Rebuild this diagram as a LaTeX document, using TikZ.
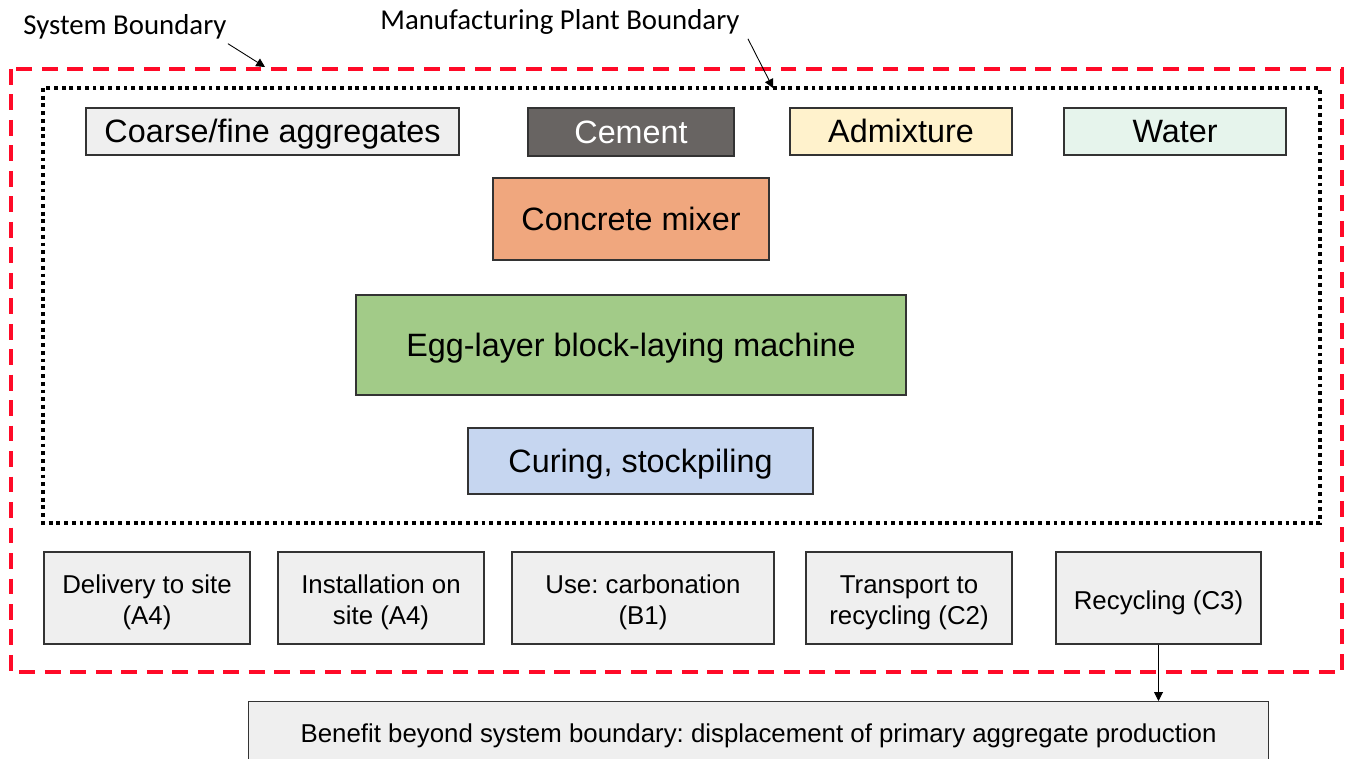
\documentclass[tikz,border=0pt]{standalone}
\usepackage{fontspec}
\setmainfont{Liberation Sans}
\newfontfamily\labelfont{Carlito}
\usetikzlibrary{positioning,arrows.meta}

\definecolor{boxgrey}{HTML}{EFEFEF}
\definecolor{cementgrey}{HTML}{686462}
\definecolor{admixyellow}{HTML}{FFF2CC}
\definecolor{watergreen}{HTML}{E6F4EC}
\definecolor{mixerorange}{HTML}{F0A77E}
\definecolor{machinegreen}{HTML}{A2CB88}
\definecolor{curingblue}{HTML}{C6D6F0}
\definecolor{boundred}{HTML}{FF0A28}

\newcommand{\stagestrut}{\rule{0pt}{16pt}}

\begin{document}
\frenchspacing
\begin{tikzpicture}[x=0.02cm,y=-0.02cm,
topbox/.style={rectangle, draw=black!80, line width=0.8pt, inner sep=0pt, text height=16.6pt, text depth=3.9pt, font=\fontsize{18.4}{21}\selectfont},
stagebox/.style={rectangle, draw=black!80, line width=0.8pt, fill=boxgrey, inner sep=0pt, align=center, minimum height=1.84cm, font=\fontsize{14.7}{17.6}\selectfont},
annot/.style={font=\labelfont\fontsize{16.4}{19}\selectfont, inner sep=0pt},
pointer/.style={-{Triangle[length=5pt,width=5pt]}, line width=0.5pt},
]
\useasboundingbox (0,0) rectangle (1352,758);

%Boundaries
\draw[boundred, line width=2.3pt, dash pattern=on 9pt off 5.5pt] (11,69) rectangle (1342,672);
\draw[black, line width=2.2pt, dash pattern=on 2.2pt off 2.2pt] (43,88) rectangle (1320,523);

%Nodes
\node[topbox, fill=boxgrey, minimum width=7.46cm, minimum height=0.94cm]      (aggregates) at (272.5,131.5) {Coarse/fine aggregates};
\node[topbox, fill=cementgrey, text=white, minimum width=4.12cm, minimum height=0.96cm] (cement) at (631,132) {Cement};
\node[topbox, fill=admixyellow, minimum width=4.44cm, minimum height=0.94cm]  (admixture) at (901,131.5) {Admixture};
\node[topbox, fill=watergreen, minimum width=4.44cm, minimum height=0.94cm]   (water) at (1175,131.5) {Water};
\node[topbox, fill=mixerorange, minimum width=5.52cm, minimum height=1.64cm]  (mixer) at (631,219) {Concrete mixer};
\node[topbox, fill=machinegreen, minimum width=11cm, minimum height=2cm]      (machine) at (631,345) {Egg-layer block-laying machine};
\node[topbox, fill=curingblue, minimum width=6.9cm, minimum height=1.32cm]    (curing) at (640.5,461) {Curing, stockpiling};

\node[stagebox, minimum width=4.12cm] (delivery) at (147,598) {\stagestrut Delivery to site\\(A4)};
\node[stagebox, minimum width=4.12cm] (install) at (381,598) {\stagestrut Installation on\\site (A4)};
\node[stagebox, minimum width=5.24cm] (use) at (643,598) {\stagestrut Use: carbonation\\(B1)};
\node[stagebox, minimum width=4.12cm] (transport) at (909,598) {\stagestrut Transport to\\recycling (C2)};
\node[stagebox, minimum width=4.10cm] (recycling) at (1158.5,598) {\stagestrut Recycling (C3)};

\node[rectangle, draw=black!80, line width=0.8pt, fill=boxgrey, inner sep=0pt, minimum width=20.4cm, minimum height=1.28cm,
      text height=13.3pt, text depth=3.1pt, anchor=north west, font=\fontsize{14.7}{18}\selectfont] (benefit) at (248,701)
      {Benefit beyond system boundary: displacement of primary aggregate production};

\node[annot] (syslabel) at (125,27) {System Boundary};
\node[annot] (plantlabel) at (560,22) {Manufacturing Plant Boundary};
\coordinate (sysend) at (265,67);
\coordinate (plantend) at (773,88);

%Lines
\draw[pointer] ([shift={(1,4)}]syslabel.south east) -- (sysend);
\draw[pointer] ([shift={(8,4)}]plantlabel.south east) -- (plantend);
\draw[pointer] (recycling.south) -- (benefit.north -| recycling.south);
\end{tikzpicture}
\end{document}
